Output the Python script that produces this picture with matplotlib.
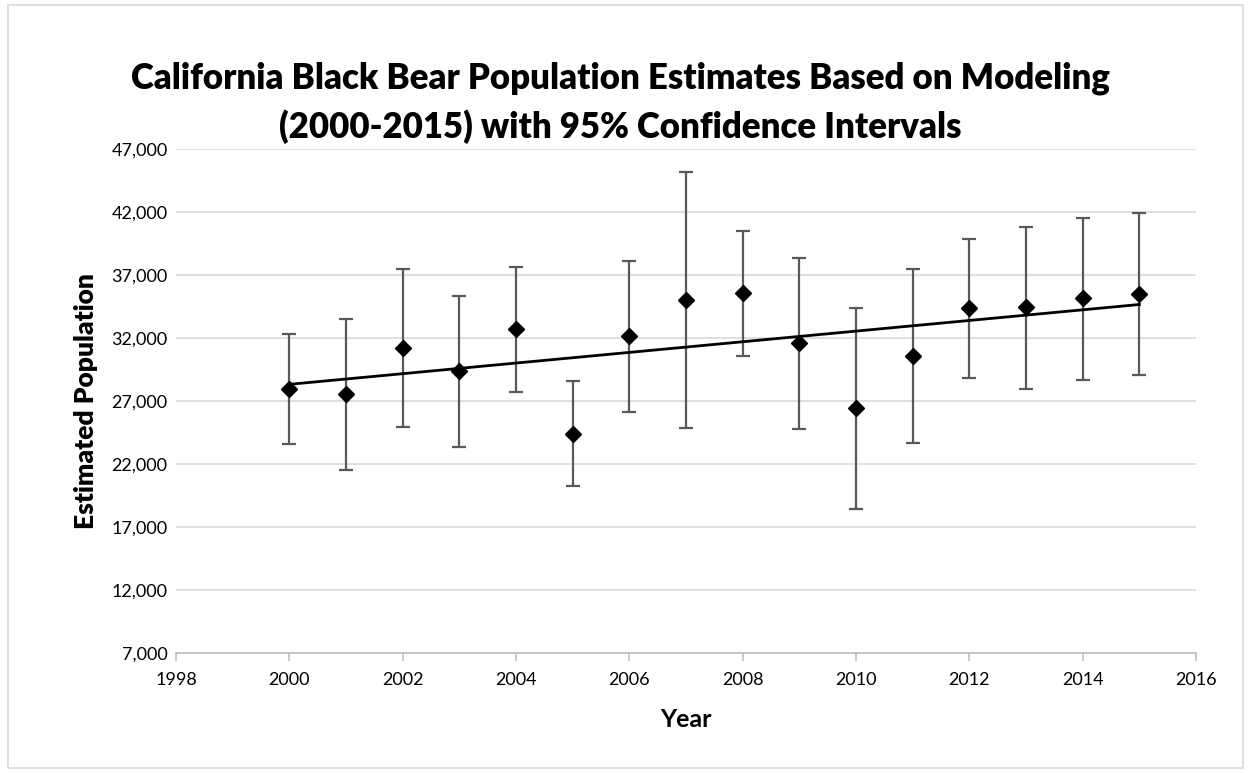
import numpy as np
import matplotlib.pyplot as plt
from matplotlib.patches import Rectangle
from matplotlib.ticker import FuncFormatter, MultipleLocator

plt.rcParams['font.family'] = ['Lato', 'DejaVu Sans']

# Modeled population estimates with 95% confidence bounds
years = [2000, 2001, 2002, 2003, 2004, 2005, 2006, 2007,
         2008, 2009, 2010, 2011, 2012, 2013, 2014, 2015]
estimate = [27950, 27560, 31210, 29350, 32680, 24400, 32130, 34980,
            35540, 31570, 26410, 30570, 34380, 34460, 35140, 35520]
upper_ci = [32320, 33530, 37440, 35300, 37660, 28590, 38130, 45200,
            40520, 38350, 34400, 37440, 39880, 40830, 41550, 41940]
lower_ci = [23610, 21550, 24960, 23320, 27680, 20280, 26150, 24860,
            30540, 24750, 18450, 23670, 28790, 27980, 28690, 29060]
y_ticks = [7000, 12000, 17000, 22000, 27000, 32000, 37000, 42000, 47000]

years = np.array(years)
estimate = np.array(estimate)
err_low = estimate - np.array(lower_ci)
err_high = np.array(upper_ci) - estimate

fig = plt.figure(figsize=(12.51, 7.73), dpi=100)
ax = fig.add_axes([176 / 1251, 1 - 653 / 773, 1020 / 1251, 504 / 773])

ax.errorbar(years, estimate, yerr=[err_low, err_high], fmt='none',
            ecolor='#595959', elinewidth=1.6, capsize=5, capthick=1.6, zorder=2)
ax.plot(years, estimate, linestyle='none', marker='D', markersize=8,
        color='black', zorder=4)

# linear trendline
slope, intercept = np.polyfit(years, estimate, 1)
ax.plot(years[[0, -1]], slope * years[[0, -1]] + intercept,
        color='black', linewidth=2, zorder=3)

ax.set_xlim(1998, 2016)
ax.set_ylim(y_ticks[0], y_ticks[-1])
ax.xaxis.set_major_locator(MultipleLocator(2))
ax.set_yticks(y_ticks)
ax.yaxis.set_major_formatter(FuncFormatter(lambda v, p: f'{int(v):,}'))

ax.grid(axis='y', color='#d9d9d9', linewidth=1.2, zorder=0)
ax.set_axisbelow(True)
for side in ['top', 'right', 'left']:
    ax.spines[side].set_visible(False)
ax.spines['bottom'].set_color('#bfbfbf')
ax.spines['bottom'].set_linewidth(1.2)
ax.tick_params(axis='x', direction='out', length=6, width=1.2,
               color='#bfbfbf', labelsize=13, pad=8)
ax.tick_params(axis='y', length=0, labelsize=13, pad=6)

ax.set_xlabel('Year', fontsize=18, fontweight='bold', labelpad=14)
ax.set_ylabel('Estimated Population', fontsize=19, fontweight='heavy', labelpad=10)

fig.text(0.496, 0.867, 'California Black Bear Population Estimates Based on Modeling\n'
         '(2000-2015) with 95% Confidence Intervals',
         ha='center', va='center', fontsize=25, fontweight='heavy',
         linespacing=1.5)

# chart area border
fig.patches.append(Rectangle((8 / 1251, 5 / 773), 1 - 16 / 1251, 1 - 10 / 773,
                             transform=fig.transFigure, fill=False,
                             edgecolor='#d9d9d9', linewidth=1.2))

fig.savefig('out.png', dpi=100)
